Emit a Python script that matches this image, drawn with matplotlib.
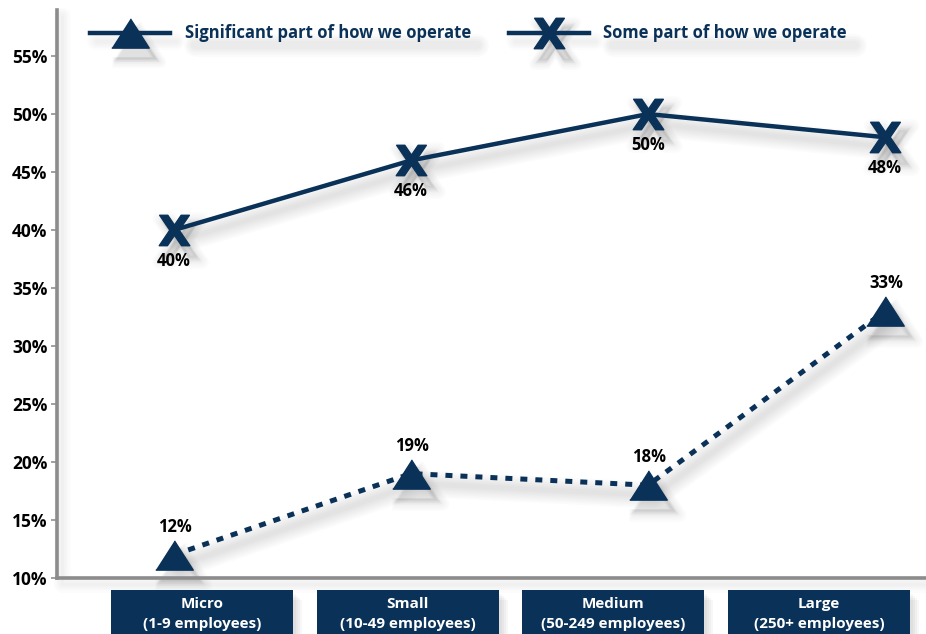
import matplotlib.pyplot as plt
from matplotlib.patches import Rectangle
from matplotlib.lines import Line2D
from matplotlib.transforms import ScaledTranslation

# Share of businesses, by size band
categories = ["Micro\n(1-9 employees)", "Small\n(10-49 employees)",
              "Medium\n(50-249 employees)", "Large\n(250+ employees)"]
significant = [12, 19, 18, 33]
some_part = [40, 46, 50, 48]
yticks = [10, 15, 20, 25, 30, 35, 40, 45, 50, 55]
series_names = ["Significant part of how we operate", "Some part of how we operate"]

navy = "#0a3157"
W, H = 926, 634
plt.rcParams["font.family"] = ["Open Sans", "DejaVu Sans"]
plt.rcParams["font.weight"] = "bold"

tri = [(-1, -0.78), (1, -0.78), (0, 0.78)]
xmark = r"$\mathbf{X}$"

fig = plt.figure(figsize=(W / 100, H / 100), dpi=100)
ax = fig.add_axes([57 / W, 1 - 578 / H, 1 - 57 / W, (578 - 10) / H])


def soft_shadow(xs, ys, base, lw=3, marker=None, ms=0, dx=6, dy=-10,
                layers=7, alpha=0.016, spread=2.6):
    """Stack of wide, faint, offset strokes that reads as a blurred drop shadow."""
    off = base + ScaledTranslation(dx / 100, dy / 100, fig.dpi_scale_trans)
    for k in range(layers):
        line = Line2D(xs, ys, transform=off, color="black", alpha=alpha,
                      lw=lw + spread * k, solid_capstyle="round",
                      solid_joinstyle="round", zorder=1)
        if marker is not None:
            line.set_marker(marker)
            line.set_markersize(ms + spread * 0.6 * k)
            line.set_markeredgewidth(spread * 0.6 * k)
            line.set_markeredgecolor("black")
        if base is ax.transData or base is ax.transAxes:
            ax.add_line(line)
            line.set_clip_on(False)
        else:
            fig.add_artist(line)


x = list(range(len(categories)))

# axis spines get a faint shadow too
soft_shadow([0, 0, 1], [1, 0, 0], ax.transAxes, lw=2, dx=5, dy=-6, layers=5, alpha=0.012)

soft_shadow(x, some_part, ax.transData, lw=3.2, marker=xmark, ms=22)
soft_shadow(x, significant, ax.transData, lw=3.6, marker=tri, ms=27)

ax.plot(x, some_part, color=navy, lw=3.2, marker=xmark, markersize=22, zorder=3)
ax.plot(x, significant, color=navy, lw=3.6, linestyle=(0, (1.4, 1.6)),
        dash_capstyle="butt", marker=tri, markersize=27, zorder=3)

for xi, v in zip(x, some_part):
    ax.annotate(f"{v}%", (xi, v), xytext=(0, -31), textcoords="offset pixels",
                ha="center", va="center", fontsize=12, fontweight="bold",
                color="black", zorder=4)
for xi, v in zip(x, significant):
    ax.annotate(f"{v}%", (xi, v), xytext=(1, 28), textcoords="offset pixels",
                ha="center", va="center", fontsize=12, fontweight="bold",
                color="black", zorder=4)

ax.set_xlim((57 - 174) / 237, (926 - 174) / 237)
ax.set_ylim(10, 58.97)
ax.set_yticks(yticks)
ax.set_yticklabels([f"{t}%" for t in yticks], fontsize=12.5, fontweight="bold")
ax.set_xticks([])
ax.tick_params(axis="y", length=4, width=1.2, color="#909090", pad=3)
for side in ["top", "right"]:
    ax.spines[side].set_visible(False)
for side in ["left", "bottom"]:
    ax.spines[side].set_color("#8c8c8c")
    ax.spines[side].set_linewidth(2.6)
    ax.spines[side].set_zorder(2)

# legend drawn by hand across the top
legend_items = [(90, 170, 130, 185, 467, tri, 27), (509, 589, 549, 603, 845, xmark, 22)]
y = 1 - 33 / H
for (x0, x1, xm, xt, xe, mk, ms), name in zip(legend_items, series_names):
    soft_shadow([x0 / W, x1 / W], [y, y], fig.transFigure, lw=2.5, dy=-8, layers=5, alpha=0.012)
    soft_shadow([xm / W], [y], fig.transFigure, lw=0, marker=mk, ms=ms, layers=6, alpha=0.02)
    soft_shadow([xt / W, xe / W], [y, y], fig.transFigure, lw=6, dx=10, dy=-12,
                layers=5, alpha=0.014)
    fig.add_artist(Line2D([x0 / W, x1 / W], [y, y], transform=fig.transFigure,
                          color=navy, lw=3.2, zorder=3))
    fig.add_artist(Line2D([xm / W], [y], transform=fig.transFigure, color=navy,
                          marker=mk, markersize=ms, zorder=3))
    fig.text(xt / W, y, name, color=navy, fontsize=12, fontweight="bold",
             va="center", ha="left", zorder=4)

# category boxes under the axis
box_w, box_h = 182 / W, (634 - 590) / H + 0.02
for i, label in enumerate(categories):
    left = (111 + i * 205.7) / W
    for k in range(4):
        fig.add_artist(Rectangle((left + (3 + 2 * k) / W, -0.02 - (4 + 2 * k) / H), box_w, box_h,
                                 transform=fig.transFigure, facecolor="black",
                                 alpha=0.03, edgecolor="none", zorder=1))
    fig.add_artist(Rectangle((left, -0.02), box_w, box_h, transform=fig.transFigure,
                             facecolor=navy, edgecolor="none", zorder=2))
    top, bottom = label.split("\n")
    fig.text(left + box_w / 2, 1 - 604 / H, top, color="white", fontsize=11,
             fontweight="bold", ha="center", va="center", zorder=3)
    fig.text(left + box_w / 2, 1 - 624 / H, bottom, color="white", fontsize=11,
             fontweight="bold", ha="center", va="center", zorder=3)

fig.savefig("out.png", dpi=100)
